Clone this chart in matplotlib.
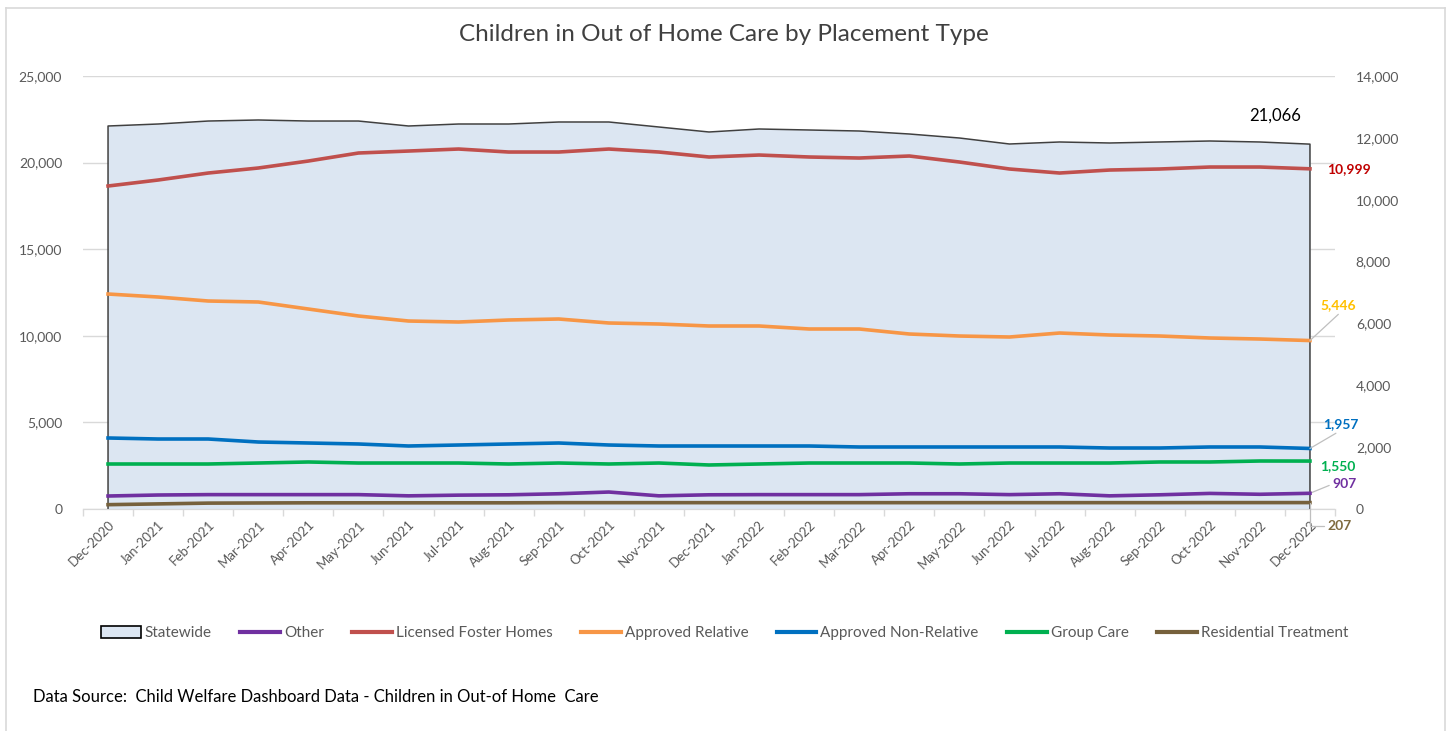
import numpy as np
import matplotlib.pyplot as plt
from matplotlib.lines import Line2D
from matplotlib.patches import Patch

plt.rcParams['font.family'] = ['Lato', 'DejaVu Sans']

months = ['Dec-2020', 'Jan-2021', 'Feb-2021', 'Mar-2021', 'Apr-2021', 'May-2021',
          'Jun-2021', 'Jul-2021', 'Aug-2021', 'Sep-2021', 'Oct-2021', 'Nov-2021',
          'Dec-2021', 'Jan-2022', 'Feb-2022', 'Mar-2022', 'Apr-2022', 'May-2022',
          'Jun-2022', 'Jul-2022', 'Aug-2022', 'Sep-2022', 'Oct-2022', 'Nov-2022',
          'Dec-2022']

# left axis
statewide = [22113, 22228, 22400, 22460, 22400, 22400, 22113, 22228, 22228, 22344,
             22344, 22055, 21767, 21940, 21882, 21824, 21651, 21420, 21074, 21190,
             21132, 21190, 21247, 21190, 21066]
other = [750, 808, 830, 830, 830, 830, 760, 800, 820, 880, 980, 760, 820, 830, 830,
         830, 880, 880, 830, 880, 760, 820, 900, 850, 907]

# right axis
foster = [10443, 10637, 10863, 11025, 11251, 11510, 11574, 11639, 11542, 11542,
          11639, 11542, 11381, 11445, 11381, 11348, 11413, 11219, 10993, 10863,
          10960, 10993, 11057, 11057, 10999]
relative = [6951, 6854, 6725, 6693, 6466, 6240, 6078, 6046, 6111, 6143, 6014, 5981,
            5917, 5917, 5820, 5820, 5658, 5593, 5561, 5690, 5626, 5593, 5529, 5496,
            5446]
non_relative = [2296, 2263, 2263, 2166, 2134, 2102, 2037, 2069, 2102, 2134, 2069,
                2037, 2037, 2037, 2037, 2005, 2005, 2005, 2005, 2005, 1972, 1972,
                2005, 2005, 1957]
group_care = [1455, 1455, 1455, 1487, 1520, 1487, 1487, 1487, 1455, 1487, 1455,
              1487, 1423, 1455, 1487, 1487, 1487, 1455, 1487, 1487, 1487, 1520,
              1520, 1552, 1550]
residential = [140, 165, 190, 195, 200, 200, 200, 200, 200, 205, 205, 205, 205, 205,
               205, 205, 205, 205, 205, 205, 205, 205, 207, 207, 207]

grey = '#595959'
x = np.arange(len(months))

fig = plt.figure(figsize=(14.49, 7.31), dpi=100)
ax = fig.add_axes([83 / 1449, 1 - 509 / 731, 1252 / 1449, 433 / 731])
ax2 = ax.twinx()

# statewide area
ax.fill_between(x, 0, statewide, color='#DCE6F2', lw=0, zorder=2)
ax.plot(np.r_[0, x, x[-1]], np.r_[0, statewide, 0], color='#404040', lw=1.1, zorder=3)
ax.plot(x, other, color='#7030A0', lw=2.6, zorder=4)

ax2.plot(x, foster, color='#C0504D', lw=2.6)
ax2.plot(x, relative, color='#F79646', lw=2.6)
ax2.plot(x, non_relative, color='#0070C0', lw=2.6)
ax2.plot(x, group_care, color='#00B050', lw=2.6)
ax2.plot(x, residential, color='#76613C', lw=2.6)

ax.set_xlim(-0.5, len(months) - 0.5)
ax.set_ylim(0, 25000)
ax2.set_ylim(0, 14000)
ax.set_yticks(np.arange(0, 25001, 5000))
ax2.set_yticks(np.arange(0, 14001, 2000))
ax.set_yticklabels([f'{v:,}' for v in range(0, 25001, 5000)])
ax2.set_yticklabels([f'{v:,}' for v in range(0, 14001, 2000)])
ax.set_axisbelow(True)
ax.grid(axis='y', color='#D9D9D9', lw=1)

ax.set_xticks(x)
ax.set_xticklabels(months, rotation=45, ha='right', rotation_mode='anchor')
ax.set_xticks(np.arange(-0.5, len(months), 1), minor=True)
ax.tick_params(axis='x', which='major', length=0, pad=7, labelsize=9.5, labelcolor=grey)
ax.tick_params(axis='x', which='minor', length=5, color='#D9D9D9', width=1)
ax.tick_params(axis='y', length=0, pad=15, labelsize=10, labelcolor=grey)
ax2.tick_params(axis='y', length=0, pad=15, labelsize=10, labelcolor=grey)

for a in (ax, ax2):
    for s in ('top', 'left', 'right'):
        a.spines[s].set_visible(False)
    a.spines['bottom'].set_color('#D9D9D9')

ax.set_title('Children in Out of Home Care by Placement Type', fontsize=17.5,
             color='#404040', pad=25, x=(724 - 83) / 1252)

# end-of-series labels
last = len(months) - 1
lead = dict(arrowstyle='-', color='#BFBFBF', lw=0.9, shrinkA=0, shrinkB=0)
ax.annotate(f'{statewide[-1]:,}', (last, statewide[-1]), xytext=(-35, 29),
            textcoords='offset pixels', ha='center', va='center', fontsize=12,
            color='black')
ax2.annotate(f'{foster[-1]:,}', (last, foster[-1]), xytext=(17, 0),
             textcoords='offset pixels', ha='left', va='center', fontsize=10,
             fontweight='bold', color='#C00000')
ax2.annotate(f'{relative[-1]:,}', (last, relative[-1]), xytext=(10, 35),
             textcoords='offset pixels', ha='left', va='center', fontsize=10,
             fontweight='bold', color='#FFC000',
             arrowprops=dict(lead, relpos=(0.6, 0)))
ax2.annotate(f'{non_relative[-1]:,}', (last, non_relative[-1]), xytext=(13, 24),
             textcoords='offset pixels', ha='left', va='center', fontsize=10,
             fontweight='bold', color='#0070C0',
             arrowprops=dict(lead, relpos=(0.5, 0)))
ax2.annotate(f'{group_care[-1]:,}', (last, group_care[-1]), xytext=(10, -5),
             textcoords='offset pixels', ha='left', va='center', fontsize=10,
             fontweight='bold', color='#00B050')
ax.annotate(f'{other[-1]:,}', (last, other[-1]), xytext=(22, 9),
            textcoords='offset pixels', ha='left', va='center', fontsize=10,
            fontweight='bold', color='#7030A0',
            arrowprops=dict(lead, relpos=(0, 0.5)))
ax2.annotate(f'{residential[-1]:,}', (last, residential[-1]), xytext=(17, -23),
             textcoords='offset pixels', ha='left', va='center', fontsize=10,
             fontweight='bold', color='#7F6B3F',
             arrowprops=dict(lead, relpos=(0, 0.5),
                             connectionstyle='angle,angleA=0,angleB=90,rad=0'))

handles = [Patch(facecolor='#DCE6F2', edgecolor='black', lw=1.2, label='Statewide'),
           Line2D([], [], color='#7030A0', lw=3, label='Other'),
           Line2D([], [], color='#C0504D', lw=3, label='Licensed Foster Homes'),
           Line2D([], [], color='#F79646', lw=3, label='Approved Relative'),
           Line2D([], [], color='#0070C0', lw=3, label='Approved Non-Relative'),
           Line2D([], [], color='#00B050', lw=3, label='Group Care'),
           Line2D([], [], color='#76613C', lw=3, label='Residential Treatment')]
leg = fig.legend(handles=handles, loc='center', bbox_to_anchor=(0.5, 1 - 633 / 731),
                 ncol=7, frameon=False, fontsize=11, handlelength=2.6,
                 handletextpad=0.27, columnspacing=1.85, handleheight=0.8)
for t in leg.get_texts():
    t.set_color(grey)

fig.text(33 / 1449, 1 - 697 / 731,
         'Data Source:  Child Welfare Dashboard Data - Children in Out-of Home  Care',
         fontsize=12, color='black', va='center')

# chart border
for xs, ys in (([6, 1445], [8, 8]), ([6, 6], [8, 731]), ([1445, 1445], [8, 731])):
    fig.add_artist(Line2D([v / 1449 for v in xs], [1 - v / 731 for v in ys],
                          color='#D9D9D9', lw=1.2))

fig.savefig('out.png', dpi=100)
